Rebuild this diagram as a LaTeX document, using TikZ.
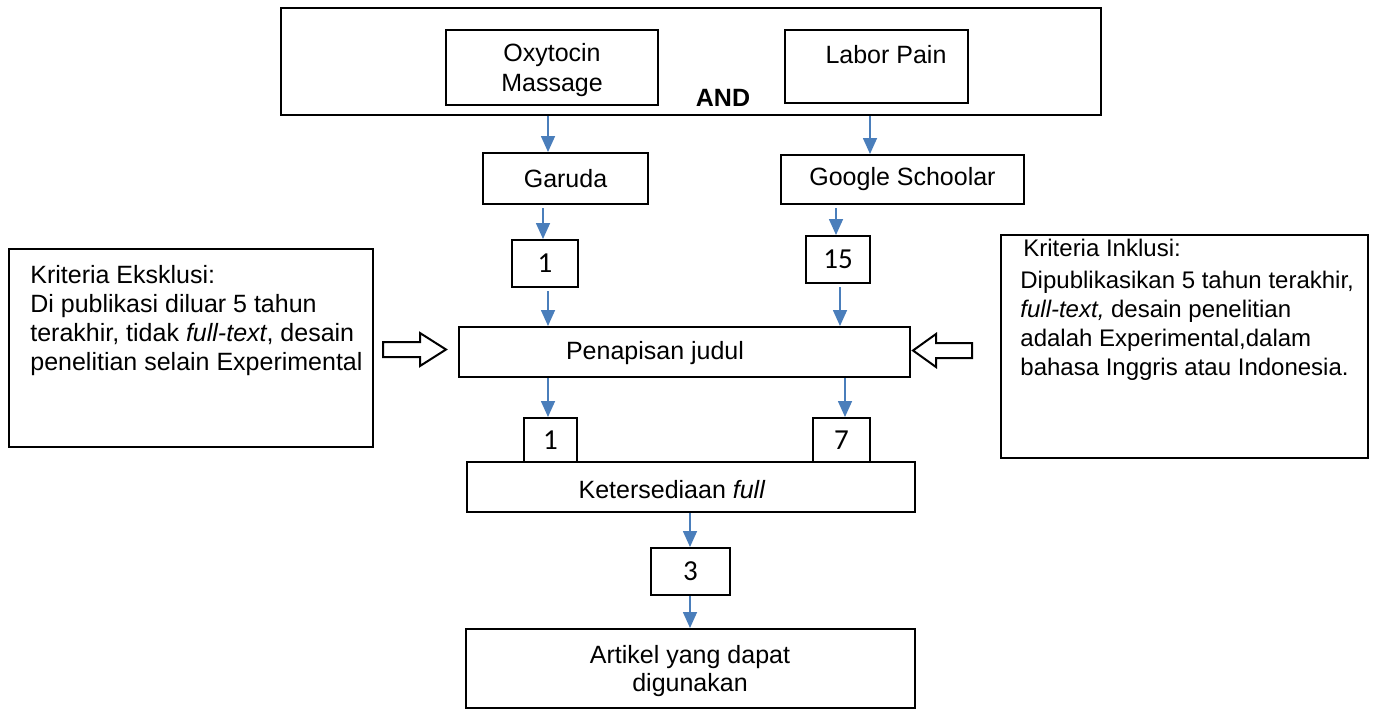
\documentclass[tikz,border=0pt]{standalone}
\usepackage{fontspec}
\setmainfont{Liberation Sans}
\newfontfamily\numfont{Carlito}
\usetikzlibrary{arrows.meta}
\definecolor{arrblue}{HTML}{4A7EBB}
\begin{document}
\begin{tikzpicture}[x=0.5pt,y=-0.5pt,
  every node/.style={font=\fontsize{12.5}{14.5}\selectfont},
  box/.style 2 args={draw=black, line width=1pt, inner sep=0pt, minimum width=#1, minimum height=#2},
  numbox/.style 2 args={box={#1}{#2}, font=\numfont\fontsize{14.5}{16}\selectfont},
  txt/.style={inner sep=0pt, align=center},
  ltxt/.style={inner sep=0pt, align=left, anchor=north west},
  arr/.style={draw=arrblue, line width=0.8pt, -{Triangle[width=7pt,length=8pt]}, color=arrblue},
  hollow/.style={draw=black, line width=1pt, fill=white}
]
\useasboundingbox (0,0) rectangle (1376,708);

% x positions of connectors
\coordinate (xa) at (548,0);
\coordinate (xb) at (870,0);
\coordinate (xc) at (543,0);
\coordinate (xd) at (836,0);
\coordinate (xe) at (548,0);
\coordinate (xf) at (840,0);
\coordinate (xg) at (548,0);
\coordinate (xh) at (845,0);
\coordinate (xi) at (690,0);

% top search box
\node[box={410pt}{53.5pt}, line width=1.3pt] (outer) at (691,61.5) {};
\node[box={106pt}{37.5pt}] (oxy) at (552,67.5) {};
\node[txt, font=\fontsize{12.5}{15}\selectfont] (oxyt) at (552,70) {Oxytocin\\Massage};
\node[box={91.5pt}{36.5pt}] (labor) at (876.5,66.5) {};
\node[txt] (labort) at (886,55) {Labor Pain};
\node[txt, font=\bfseries\fontsize{12.5}{14.5}\selectfont] (and) at (723,98) {AND};

% databases
\node[box={82.5pt}{25.5pt}] (garuda) at (565.5,178.5) {Garuda};
\node[box={121.5pt}{24.5pt}] (google) at (902.5,179.5) {Google Schoolar};

% counts
\node[numbox={33pt}{23.5pt}] (n1) at (545,263.5) {1};
\node[numbox={32pt}{23.5pt}] (n15) at (838,259.5) {15};

% screening
\node[box={225.5pt}{25pt}] (pen) at (684.5,352) {};
\node[txt] (pent) at (655,353) {Penapisan judul};

\node[numbox={26.5pt}{22pt}] (n1b) at (550.5,440) {1};
\node[numbox={28.5pt}{22pt}] (n7) at (841.5,440) {7};

\node[box={224pt}{25pt}] (ket) at (691,487) {};
\node[txt] (kett) at (672,490) {Ketersediaan \textit{full}};

\node[numbox={39.5pt}{23.5pt}] (n3) at (690.5,571.5) {3};

\node[box={224.5pt}{39.5pt}] (art) at (690.5,668.5) {};
\node[txt, font=\fontsize{12.5}{14}\selectfont] (artt) at (690,671) {Artikel yang dapat\\digunakan};

% criteria boxes
\node[box={182pt}{99pt}] (excl) at (191,348) {};
\node[ltxt] (exclt) at (30,265) {Kriteria Eksklusi:\\Di publikasi diluar 5 tahun\\terakhir, tidak \textit{full-text}, desain\\penelitian selain Experimental};

\node[box={183.5pt}{111.5pt}] (incl) at (1184.5,346.5) {};
\node[ltxt, font=\fontsize{12}{14.5}\selectfont] (inclh) at (1023,239) {Kriteria Inklusi:};
\node[ltxt, font=\fontsize{12}{14.5}\selectfont] (inclt) at (1020,271) {Dipublikasikan 5 tahun terakhir,\\\textit{full-text,} desain penelitian\\adalah Experimental,dalam\\bahasa Inggris atau Indonesia.};

% hollow block arrows
\draw[hollow] (383,342) -- (420,342) -- (420,333) -- (446,349.5) -- (420,366) -- (420,357) -- (383,357) -- cycle;
\draw[hollow] (972,343) -- (936,343) -- (936,334) -- (913,350.5) -- (936,367) -- (936,358) -- (972,358) -- cycle;

% connectors
\draw[arr] (outer.south -| xa) -- (garuda.north -| xa);
\draw[arr] (outer.south -| xb) -- (google.north -| xb);
\draw[arr] ([yshift=-1.5pt]garuda.south -| xc) -- (n1.north -| xc);
\draw[arr] ([yshift=-1.5pt]google.south -| xd) -- (n15.north -| xd);
\draw[arr] ([yshift=-1.5pt]n1.south -| xe) -- (pen.north -| xe);
\draw[arr] ([yshift=-1.5pt]n15.south -| xf) -- (pen.north -| xf);
\draw[arr] (pen.south -| xg) -- (n1b.north -| xg);
\draw[arr] (pen.south -| xh) -- (n7.north -| xh);
\draw[arr] (ket.south -| xi) -- (n3.north -| xi);
\draw[arr] (n3.south -| xi) -- (art.north -| xi);
\end{tikzpicture}
\end{document}
